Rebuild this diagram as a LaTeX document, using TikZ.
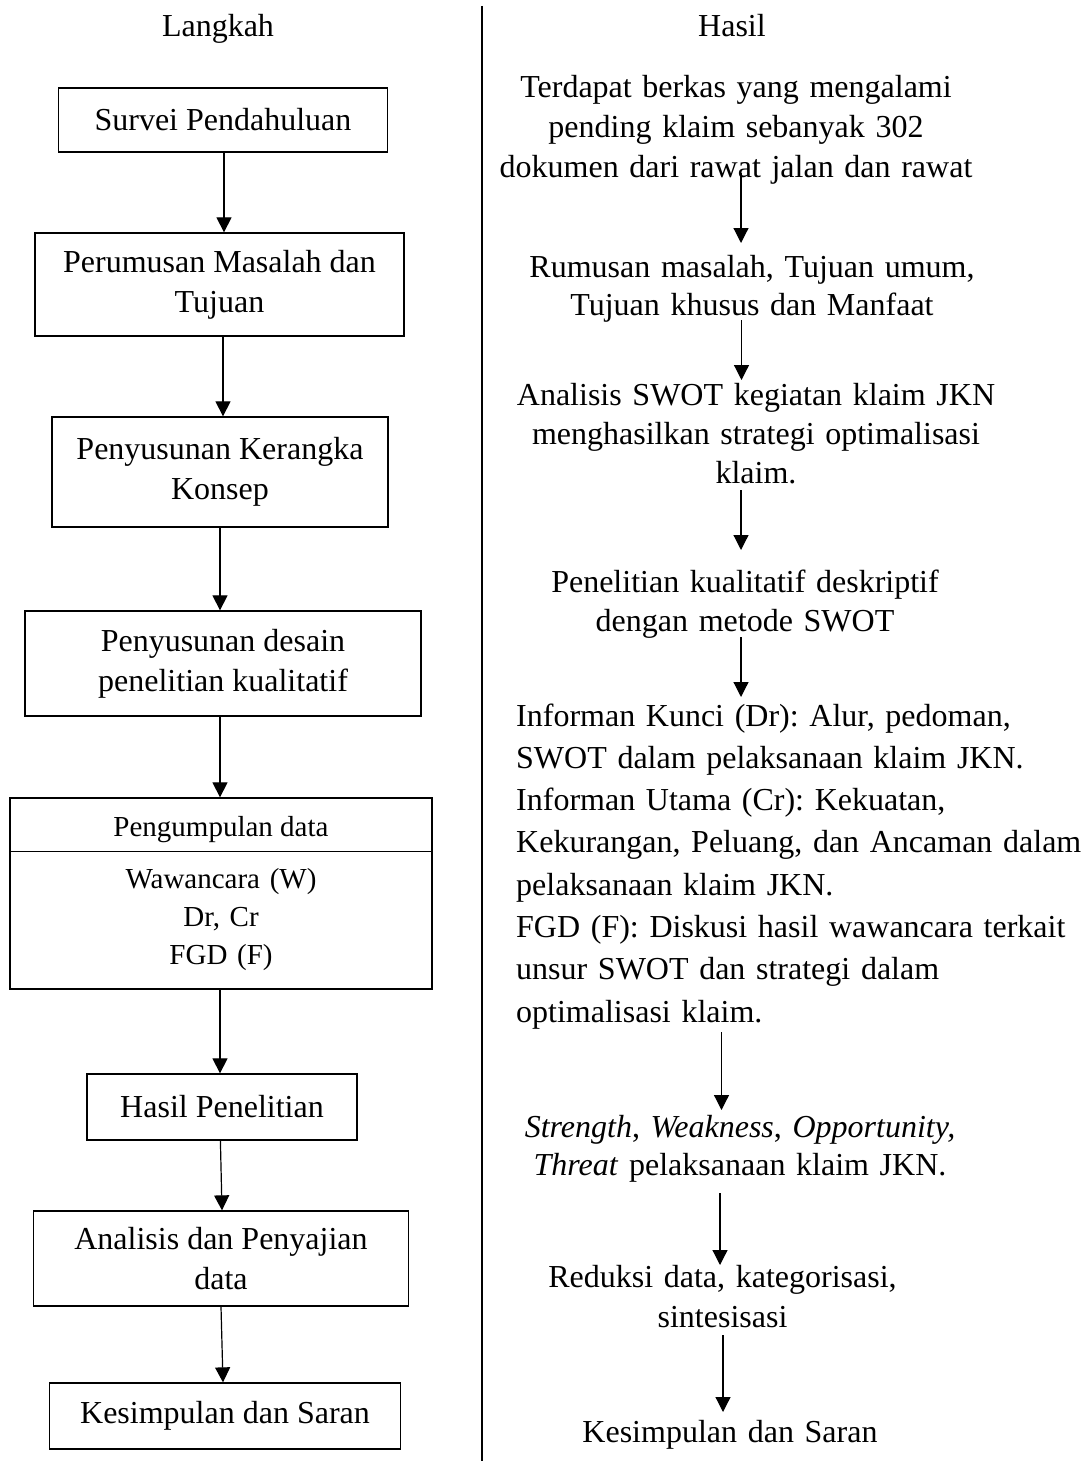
\documentclass[tikz,border=0pt]{standalone}
\usepackage{fontspec}
\setmainfont{Liberation Serif}
\usetikzlibrary{arrows.meta}
\frenchspacing
\begin{document}
\begin{tikzpicture}[x=1pt,y=-1pt,
  box/.style={draw, line width=1.3pt, inner sep=0pt, align=center, font=\fontsize{32}{40}\selectfont},
  arr/.style={-{Triangle[width=15pt,length=15pt]}, line width=1.2pt},
  rt/.style={anchor=base, text width=520pt, align=center, inner sep=0pt},
  hd/.style={anchor=base, inner sep=0pt, font=\fontsize{32}{40}\selectfont},
]
\useasboundingbox (0,0) rectangle (1083,1461);

% headers and divider
\node[hd] (hl) at (218,37) {Langkah};
\node[hd] (hh) at (732,37) {Hasil};
\draw[line width=2pt] (482,6) -- (482,1461);

% left column boxes
\node[box, minimum width=329pt, minimum height=64pt] (b1) at (223,120) {Survei Pendahuluan};
\node[box, minimum width=369pt, minimum height=103pt] (b2) at (219.5,284.5) {Perumusan Masalah dan\\Tujuan};
\node[box, minimum width=336pt, minimum height=110pt] (b3) at (220,472) {Penyusunan Kerangka\\Konsep};
\node[box, minimum width=396pt, minimum height=105pt] (b4) at (223,663.5) {Penyusunan desain\\penelitian kualitatif};
\node[box, minimum width=422pt, minimum height=191pt] (b5) at (221,893.5) {};
\draw[line width=1.3pt] ([yshift=-54pt]b5.north west) -- ([yshift=-54pt]b5.north east);
\node[anchor=base, inner sep=0pt, font=\fontsize{29}{38}\selectfont] (b5h) at (221,836) {Pengumpulan data};
\node[anchor=base, text width=400pt, align=center, inner sep=0pt, font=\fontsize{29}{38}\selectfont] (b5t) at (221,888) {Wawancara (W)\\Dr, Cr\\FGD (F)};
\node[box, minimum width=270pt, minimum height=66pt] (b6) at (222,1107) {Hasil Penelitian};
\node[box, minimum width=375pt, minimum height=95pt] (b7) at (221,1258.5) {Analisis dan Penyajian\\data};
\node[box, minimum width=351pt, minimum height=66pt] (b8) at (225,1416) {Kesimpulan dan Saran};

% left arrows
\draw[arr] ([xshift=1pt]b1.south) -- ([xshift=1pt]b1.south |- b2.north);
\draw[arr] ([xshift=3.5pt]b2.south) -- ([xshift=3.5pt]b2.south |- b3.north);
\draw[arr] (b3.south) -- (b3.south |- b4.north);
\draw[arr] ([xshift=-3pt]b4.south) -- ([xshift=-3pt]b4.south |- b5.north);
\draw[arr] ([xshift=-1pt]b5.south) -- ([xshift=-1pt]b5.south |- b6.north);
\draw[arr] ([xshift=-1.6pt]b6.south) -- ([xshift=1pt]b7.north);
\draw[arr] (b7.south) -- ([xshift=-2pt]b8.north);

% right column texts
\node[rt, font=\fontsize{32}{40}\selectfont] (t1) at (736,98) {Terdapat berkas yang mengalami\\pending klaim sebanyak 302\\dokumen dari rawat jalan dan rawat};
\node[rt, font=\fontsize{32}{38}\selectfont] (t2) at (752,277) {Rumusan masalah, Tujuan umum,\\Tujuan khusus dan Manfaat};
\node[rt, font=\fontsize{32}{39}\selectfont] (t3) at (756,405) {Analisis SWOT kegiatan klaim JKN\\menghasilkan strategi optimalisasi\\klaim.};
\node[rt, font=\fontsize{32}{39}\selectfont] (t4) at (745,592) {Penelitian kualitatif deskriptif\\dengan metode SWOT};
\node[anchor=base west, text width=580pt, align=left, inner sep=0pt, font=\fontsize{32}{42.3}\selectfont] (t5) at (516,726) {Informan Kunci (Dr): Alur, pedoman,\\SWOT dalam pelaksanaan klaim JKN.\\Informan Utama (Cr): Kekuatan,\\Kekurangan, Peluang, dan Ancaman dalam\\pelaksanaan klaim JKN.\\FGD (F): Diskusi hasil wawancara terkait\\unsur SWOT dan strategi dalam\\optimalisasi klaim.};
\node[rt, font=\fontsize{32}{38}\selectfont] (t6) at (740,1137) {\textit{Strength}, \textit{Weakness}, \textit{Opportunity,}\\\textit{Threat} pelaksanaan klaim JKN.};
\node[rt, font=\fontsize{32}{40}\selectfont] (t7) at (722.5,1287) {Reduksi data, kategorisasi,\\sintesisasi};
\node[rt, font=\fontsize{32}{40}\selectfont] (t8) at (730,1442) {Kesimpulan dan Saran};

% right arrows (ends as named coordinates next to the texts)
\coordinate (a1s) at (741,173);   \coordinate (a1e) at (741,243);
\coordinate (a2s) at (741.5,320); \coordinate (a2e) at (741.5,380);
\coordinate (a3s) at (741,490);   \coordinate (a3e) at (741,550);
\coordinate (a4s) at (741,637);   \coordinate (a4e) at (741,697);
\coordinate (a5s) at (721.5,1032);\coordinate (a5e) at (721.5,1110);
\coordinate (a6s) at (720,1193);  \coordinate (a6e) at (720,1265);
\coordinate (a7s) at (723,1335);  \coordinate (a7e) at (723,1412);
\draw[arr] (a1s) -- (a1e);
\draw[arr] (a2s) -- (a2e);
\draw[arr] (a3s) -- (a3e);
\draw[arr] (a4s) -- (a4e);
\draw[arr] (a5s) -- (a5e);
\draw[arr] (a6s) -- (a6e);
\draw[arr] (a7s) -- (a7e);
\end{tikzpicture}
\end{document}
